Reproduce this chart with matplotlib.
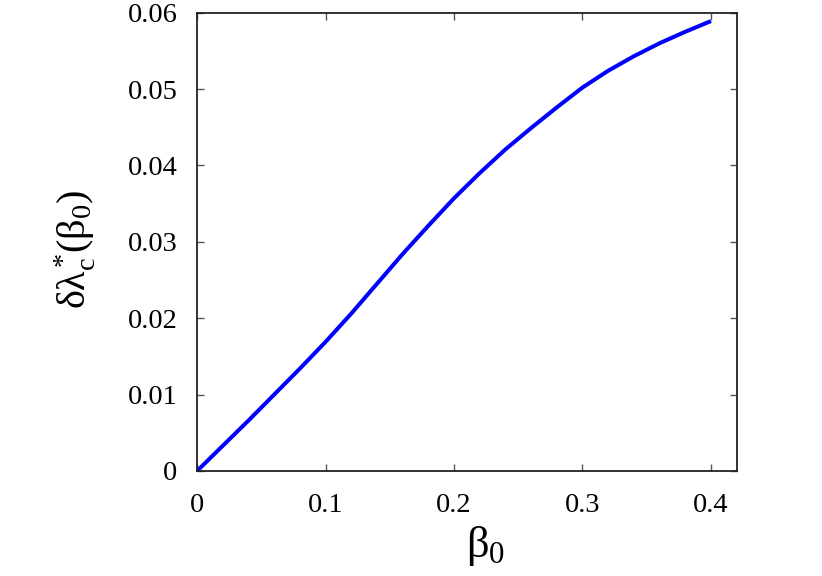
import matplotlib
matplotlib.use("Agg")
import matplotlib.pyplot as plt

plt.rcParams['font.family'] = ['Liberation Serif', 'DejaVu Serif']
plt.rcParams['mathtext.fontset'] = 'custom'
plt.rcParams['mathtext.rm'] = 'Liberation Serif'
plt.rcParams['mathtext.it'] = 'Liberation Serif'
plt.rcParams['mathtext.bf'] = 'Liberation Serif:bold'

beta0 = [0, 0.02, 0.04, 0.06, 0.08, 0.10, 0.12, 0.14, 0.16, 0.18, 0.20,
         0.22, 0.24, 0.26, 0.28, 0.30, 0.32, 0.34, 0.36, 0.38, 0.40]
dlam = [0, 0.0033, 0.0066, 0.0100, 0.0134, 0.0169, 0.0206, 0.0245, 0.0284,
        0.0321, 0.0357, 0.0390, 0.0421, 0.0449, 0.0476, 0.0502, 0.0524,
        0.0543, 0.0560, 0.0575, 0.0589]

xticks = [0, 0.1, 0.2, 0.3, 0.4]
xticklabels = ['0', '0.1', '0.2', '0.3', '0.4']
yticks = [0, 0.01, 0.02, 0.03, 0.04, 0.05, 0.06]
yticklabels = ['0', '0.01', '0.02', '0.03', '0.04', '0.05', '0.06']

fig = plt.figure(figsize=(8.22, 5.76), dpi=100)
ax = fig.add_axes([0.2397, 0.1823, 0.6565, 0.7957])
ax.plot(beta0, dlam, color='#0000ff', lw=2.9, solid_capstyle='butt',
        solid_joinstyle='round')
ax.set_xlim(0, 0.42)
ax.set_ylim(0, 0.06)
ax.set_xticks(xticks)
ax.set_xticklabels(xticklabels)
ax.set_yticks(yticks)
ax.set_yticklabels(yticklabels)
ax.tick_params(direction='in', length=5, width=1, color='#555555',
               top=True, right=True, labelsize=20.5)
ax.tick_params(axis='x', pad=16)
ax.tick_params(axis='y', pad=14)
for s in ax.spines.values():
    s.set_linewidth(1.3)
    s.set_color('#222222')

ax.set_xlabel(r'$\beta_0$', fontsize=32)
ax.set_ylabel(r'$\delta\lambda^{*}_{\mathrm{c}}(\beta_0)$', fontsize=29)
ax.xaxis.set_label_coords(0.535, -0.115)
ax.yaxis.set_label_coords(-0.185, 0.483)

fig.savefig('out.png', dpi=100)
